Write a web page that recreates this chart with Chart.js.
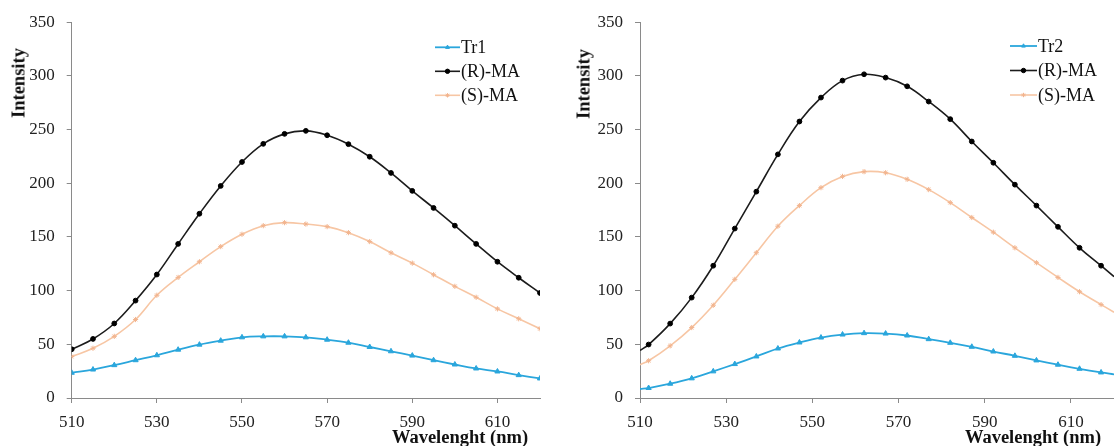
<!DOCTYPE html>
<html><head><meta charset="utf-8">
<script src="https://cdn.jsdelivr.net/npm/chart.js@4/dist/chart.umd.min.js"></script>
<style>
html,body{margin:0;padding:0;background:#fff;width:1114px;height:446px;overflow:hidden;}
.wrap{position:absolute;top:0;height:446px;width:557px;}
.title{position:absolute;font-family:"Liberation Serif","Times New Roman",serif;font-weight:bold;font-size:18.5px;color:#111;white-space:nowrap;transform:translate(-50%,-50%);}
.ytitle{transform:translate(-50%,-50%) rotate(-90deg);}
</style></head><body>
<div class="wrap" style="left:0"><canvas id="c1" width="557" height="446"></canvas></div>
<div class="wrap" style="left:557px"><canvas id="c2" width="557" height="446"></canvas></div>
<div class="title ytitle" style="left:19px;top:83px">Intensity</div>
<div class="title" style="left:460px;top:437px">Wavelenght (nm)</div>
<div class="title ytitle" style="left:584px;top:84px">Intensity</div>
<div class="title" style="left:1033px;top:437px">Wavelenght (nm)</div>
<script>
// ---- data ----
const xTickValues = [510, 530, 550, 570, 590, 610];
const wl1 = [510,515,520,525,530,535,540,545,550,555,560,565,570,575,580,585,590,595,600,605,610,615,620];
const tr1 = [23.5,26.5,30.6,35.2,39.8,45,49.7,53.4,56.5,57.4,57.4,56.5,54.3,51.5,47.5,43.5,39.5,35.2,31.2,27.5,24.7,21.3,18.2];
const rma1 = [45.4,55,69.4,90.7,115,143.5,171.6,197.5,219.8,236.7,246,248.8,244.7,236.4,224.7,209.6,192.9,177,160.5,143.5,126.9,112,97.8];
const sma1 = [38.6,46.3,57.4,73.1,95.7,112.3,126.9,141,152.5,160.5,163.3,162,159.6,154,145.7,135.2,125.6,114.8,104,93.8,83,73.8,64.5];

const wl2 = [510,512,517,522,527,532,537,542,547,552,557,562,567,572,577,582,587,592,597,602,607,612,617,620];
const tr2 = [8.4,9.3,13.3,18.3,24.8,31.6,38.7,46.1,51.7,56.3,59.1,60.4,60,58.2,54.8,51.4,47.7,43.3,39.3,35,31,27.2,23.8,22];
const rma2 = [44.3,49.8,69.3,93.5,123.2,157.8,192.2,226.9,257.5,279.8,295.6,301.5,298.4,290.3,276.1,259.7,238.9,219.1,198.7,179.2,159.4,139.9,123.2,113];
const sma2 = [31,34.7,48.6,65.6,86.4,110.5,135.3,160,179.2,195.9,206.4,210.8,209.8,203.7,194.1,182,168.1,154.4,139.9,126,112.3,99,87,79.9];

const seriesNames1 = ['Tr1', '(R)-MA', '(S)-MA'];
const seriesNames2 = ['Tr2', '(R)-MA', '(S)-MA'];

// ---- styling ----
const FONT = '"Liberation Serif","Times New Roman",serif';
const BLUE = '#2aa6dc', BLACK = '#1c1c1c', PEACH = '#f7c6a4', PEACH_PT = '#f2b48e';
const AXIS = '#8a8a8a';

const legendPlugin = {
  id: 'innerLegend',
  afterDatasetsDraw(chart, args, opts) {
    const ctx = chart.ctx;
    ctx.save();
    chart.data.datasets.forEach((ds, i) => {
      const y = opts.y + i * opts.gap;
      ctx.strokeStyle = ds.borderColor;
      ctx.lineWidth = ds.borderWidth;
      ctx.beginPath(); ctx.moveTo(opts.x, y); ctx.lineTo(opts.x + opts.len, y); ctx.stroke();
      ctx.fillStyle = ds.pointBackgroundColor;
      ctx.strokeStyle = ds.pointBorderColor;
      ctx.lineWidth = 1;
      Chart.helpers.drawPoint(ctx, {pointStyle: ds.pointStyle, radius: 2.2, borderWidth: 1, rotation: 0}, opts.x + opts.len / 2, y);
      ctx.fillStyle = '#111';
      ctx.font = '18px ' + FONT;
      ctx.textBaseline = 'middle';
      ctx.textAlign = 'left';
      ctx.fillText(ds.label, opts.x + opts.len + 1, y + 1);
    });
    ctx.restore();
  }
};

function pts(wl, vals) { return wl.map((x, i) => ({x: x, y: vals[i]})); }

function makeChart(id, wl, tr, rma, sma, names, yAxisWidth, padRight, legend, hideEnds) {
  const n = wl.length;
  const rad = (r) => wl.map((_, i) => (hideEnds && (i === 0 || i === n - 1)) ? 0 : r);
  const common = {fill: false, tension: 0.4, borderWidth: 1.6, pointBorderWidth: 1};
  return new Chart(document.getElementById(id), {
    type: 'line',
    data: {
      datasets: [
        Object.assign({label: names[0], data: pts(wl, tr), borderColor: BLUE, pointStyle: 'triangle', pointRadius: rad(3),
          pointBackgroundColor: BLUE, pointBorderColor: BLUE}, common, {borderWidth: 1.8}),
        Object.assign({label: names[1], data: pts(wl, rma), borderColor: BLACK, pointStyle: 'circle', pointRadius: rad(2.4),
          pointBackgroundColor: '#000', pointBorderColor: '#000'}, common),
        Object.assign({label: names[2], data: pts(wl, sma), borderColor: PEACH, pointStyle: 'star', pointRadius: rad(2.6),
          pointBackgroundColor: PEACH_PT, pointBorderColor: PEACH_PT}, common)
      ]
    },
    options: {
      responsive: false,
      animation: false,
      layout: {padding: {top: 19.3, right: padRight, bottom: 0, left: 0}},
      plugins: {legend: {display: false}, tooltip: {enabled: false}, innerLegend: legend},
      scales: {
        x: {
          type: 'linear', min: 510, max: 620,
          afterBuildTicks: (s) => { s.ticks = xTickValues.map(v => ({value: v})); },
          afterFit: (s) => { s.height = 48; },
          ticks: {font: {family: FONT, size: 17}, color: '#222', padding: 9, maxRotation: 0},
          grid: {drawOnChartArea: false, drawTicks: true, tickLength: 5, color: AXIS},
          border: {color: AXIS, width: 1}
        },
        y: {
          min: 0, max: 350,
          afterFit: (s) => { s.width = yAxisWidth; },
          ticks: {stepSize: 50, font: {family: FONT, size: 17}, color: '#222', padding: 12},
          grid: {drawOnChartArea: false, drawTicks: true, tickLength: 5, color: AXIS},
          border: {color: AXIS, width: 1}
        }
      }
    },
    plugins: [legendPlugin]
  });
}

makeChart('c1', wl1, tr1, rma1, sma1, seriesNames1, 71.7, 17, {x: 435, len: 25, y: 47.3, gap: 24}, false);
makeChart('c2', wl2, tr2, rma2, sma2, seriesNames2, 83, 0, {x: 453, len: 27, y: 46, gap: 24.5}, true);
</script>
</body></html>
